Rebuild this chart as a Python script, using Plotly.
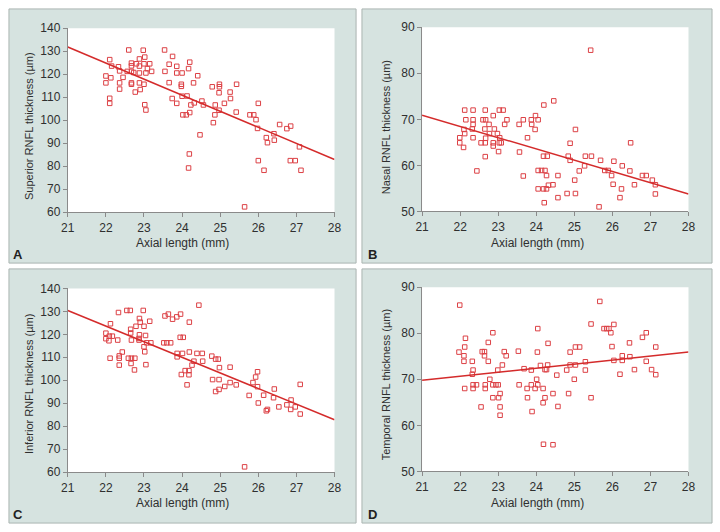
import plotly.graph_objects as go

# ---------------- data ----------------
sup_x = [22.0, 22.0, 22.1, 22.15, 22.13, 22.1, 22.1, 22.33, 22.36, 22.36, 22.36, 22.45, 22.6, 22.67, 22.67,
         22.56, 22.67, 22.67, 22.67, 22.77, 22.73, 22.8, 22.88, 22.88, 22.88, 22.88, 22.9, 22.98, 23.0, 23.02,
         23.0, 23.02, 23.05, 23.05, 23.09, 23.15, 23.2, 23.54, 23.55, 23.66, 23.66, 23.75, 23.74, 23.86, 23.86,
         23.86, 23.98, 23.98, 24.0, 24.0, 24.02, 24.11, 24.13, 24.17, 24.2, 24.2, 24.23, 24.3, 24.32, 24.41,
         24.19, 24.17, 24.47, 24.52, 24.56, 24.79, 24.82, 24.87, 24.86, 24.98, 24.98, 24.97, 24.97, 25.11, 25.26,
         25.27, 25.42, 25.43, 25.64, 25.78, 25.88, 25.94, 25.98, 26.0, 26.0, 26.15, 26.21, 26.24, 26.41, 26.42,
         26.56, 26.75, 26.85, 26.84, 26.97, 27.08, 27.12]
sup_y = [119.2, 116.2, 126.3, 123.5, 118.4, 109.5, 107.3, 123.2, 121.4, 116.2, 113.5, 118.6, 130.5, 124.8, 123.6,
         121.2, 121.2, 116.2, 115.6, 112.2, 120.7, 124.5, 126.6, 123.5, 120.5, 116.2, 113.3, 130.4, 124.5, 127.4,
         115.6, 106.7, 104.4, 120.5, 122.4, 124.5, 121.2, 130.5, 121.2, 124.3, 116.3, 127.7, 109.4, 123.4, 120.5,
         107.3, 115.6, 114.7, 120.5, 110.4, 102.3, 102.3, 110.5, 122.4, 125.2, 103.3, 106.6, 116.2, 107.5, 119.3,
         85.3, 79.2, 93.6, 108.3, 106.6, 114.5, 98.9, 106.6, 102.3, 115.6, 114.5, 111.9, 104.3, 107.3, 112.2,
         109.4, 103.5, 115.6, 62.3, 102.3, 102.3, 100.2, 96.4, 107.3, 82.4, 78.2, 92.4, 90.2, 94.1, 91.3,
         98.1, 96.3, 97.4, 82.4, 82.4, 88.4, 78.2]

nas_x = [22.12, 22.34, 22.66, 23.03, 23.13, 22.15, 22.34, 22.6, 22.67, 23.23, 23.66, 24.05, 23.87, 22.34, 22.32,
         22.1, 22.12, 21.99, 21.99, 22.09, 22.34, 22.65, 22.67, 22.66, 22.55, 22.66, 22.76, 22.77, 22.87, 22.9,
         22.87, 22.87, 22.98, 23.04, 23.03, 23.08, 23.01, 23.17, 22.44, 23.56, 23.55, 23.88, 23.98, 23.97, 23.77,
         23.66, 24.2, 24.46, 24.19, 24.29, 24.05, 24.14, 24.23, 24.27, 24.05, 24.19, 24.27, 24.32, 24.44, 24.21,
         24.57, 24.57, 24.81, 24.84, 24.89, 24.89, 25.03, 25.01, 25.03, 25.13, 25.27, 25.29, 25.45, 25.43, 25.69,
         25.65, 25.8, 25.89, 25.98, 26.02, 26.04, 26.26, 26.24, 26.2, 26.46, 26.48, 26.58, 26.79, 26.89, 27.05,
         27.13, 27.13]
nas_y = [72.0, 72.0, 72.0, 72.0, 72.0, 69.9, 69.9, 69.9, 69.9, 69.9, 69.9, 69.9, 69.9, 68.9, 67.9,
         67.8, 66.9, 66.0, 64.9, 63.9, 66.0, 67.9, 65.9, 64.9, 64.9, 61.9, 68.9, 66.9, 70.8, 67.9,
         64.9, 64.2, 66.9, 66.0, 64.9, 64.9, 63.0, 68.9, 58.8, 62.9, 68.9, 68.9, 70.8, 67.8, 66.0,
         57.7, 73.1, 74.0, 62.0, 62.0, 58.9, 58.9, 58.9, 57.8, 54.9, 54.9, 54.9, 55.7, 55.8, 51.9,
         57.8, 53.0, 53.9, 62.0, 61.1, 64.8, 67.8, 56.8, 53.9, 58.8, 59.9, 62.0, 62.0, 85.0, 61.1,
         51.0, 58.9, 58.9, 57.8, 55.9, 60.9, 59.9, 54.9, 53.0, 58.8, 64.9, 55.8, 57.8, 57.8, 56.8,
         55.8, 53.8]

inf_x = [22.0, 22.0, 22.09, 22.17, 22.08, 22.12, 22.11, 22.33, 22.31, 22.35, 22.35, 22.35, 22.43, 22.55, 22.64,
         22.65, 22.65, 22.67, 22.59, 22.67, 22.76, 22.66, 22.75, 22.79, 22.88, 22.9, 22.88, 22.87, 22.87, 22.98,
         23.0, 23.0, 23.02, 23.04, 23.07, 23.05, 23.15, 23.18, 23.55, 23.64, 23.75, 23.86, 23.96, 23.52, 23.6,
         23.7, 23.95, 24.03, 23.87, 23.87, 24.01, 23.98, 24.08, 24.18, 24.18, 24.13, 24.19, 24.19, 24.26, 24.31,
         24.39, 24.53, 24.54, 24.44, 24.78, 24.88, 24.95, 24.8, 24.97, 24.98, 24.88, 24.97, 25.12, 25.26, 25.26,
         25.42, 25.64, 25.76, 25.86, 25.93, 25.98, 25.98, 26.0, 26.14, 26.21, 26.24, 26.4, 26.42, 26.54, 26.75,
         26.86, 26.85, 26.97, 27.1, 27.1]
inf_y = [120.5, 118.1, 119.2, 119.2, 117.2, 124.6, 109.6, 129.5, 117.5, 110.6, 109.6, 106.6, 112.3, 130.4, 130.4,
         122.2, 120.6, 117.5, 109.6, 109.6, 109.6, 107.3, 104.5, 123.5, 126.9, 125.3, 119.8, 118.2, 117.5, 130.4,
         123.5, 114.6, 112.4, 119.5, 116.3, 106.8, 125.7, 116.3, 128.0, 128.8, 126.6, 127.6, 128.8, 116.3, 116.3,
         116.3, 118.7, 118.7, 111.7, 110.2, 111.7, 102.5, 104.2, 104.2, 102.4, 98.0, 125.3, 112.3, 106.6, 108.3,
         111.7, 111.7, 108.3, 132.7, 110.5, 109.2, 109.2, 100.3, 100.3, 105.5, 95.1, 96.0, 97.3, 105.7, 99.0,
         98.0, 62.3, 93.4, 99.0, 101.4, 103.7, 97.2, 90.1, 93.5, 86.7, 87.3, 92.4, 96.2, 88.4, 89.3,
         91.4, 87.3, 88.4, 98.2, 85.3]

tem_x = [21.99, 21.97, 22.14, 22.12, 22.1, 22.1, 22.12, 22.32, 22.34, 22.32, 22.34, 22.34, 22.43, 22.55, 22.58,
         22.64, 22.64, 22.66, 22.66, 22.74, 22.74, 22.78, 22.86, 22.86, 22.86, 22.94, 23.0, 22.99, 23.01, 23.05,
         23.05, 23.05, 23.11, 23.16, 23.21, 23.53, 23.55, 23.68, 23.76, 23.77, 23.87, 23.87, 23.89, 23.97, 24.01,
         24.04, 24.04, 24.03, 24.11, 24.18, 24.18, 24.23, 24.23, 24.27, 24.3, 24.31, 24.19, 24.44, 24.44, 24.54,
         24.57, 24.8, 24.85, 24.89, 24.89, 25.0, 25.03, 25.03, 25.14, 25.29, 25.29, 25.44, 25.44, 25.67, 25.78,
         25.85, 25.91, 25.96, 25.99, 26.04, 26.04, 26.2, 26.26, 26.26, 26.45, 26.46, 26.58, 26.79, 26.89, 26.89,
         27.03, 27.14, 27.14]
tem_y = [86.1, 75.9, 78.9, 77.0, 75.1, 73.9, 68.0, 73.9, 72.0, 71.1, 68.8, 68.0, 68.8, 64.0, 76.0,
         76.0, 75.1, 68.8, 68.0, 78.0, 73.9, 70.0, 80.1, 68.8, 66.0, 68.8, 68.8, 72.0, 66.0, 66.9,
         64.0, 62.2, 73.1, 76.0, 75.1, 76.1, 68.8, 72.3, 68.0, 66.0, 72.0, 68.8, 63.0, 68.0, 70.0,
         68.8, 81.0, 75.9, 73.0, 68.0, 64.9, 66.0, 72.1, 72.1, 73.1, 77.8, 55.9, 55.8, 66.9, 70.9,
         64.1, 72.0, 66.9, 75.9, 73.1, 70.0, 77.0, 73.1, 77.0, 73.8, 72.0, 82.0, 66.0, 86.9, 81.0,
         81.0, 81.0, 80.1, 77.1, 81.9, 74.1, 71.1, 75.1, 74.1, 77.9, 74.9, 72.1, 79.1, 80.1, 73.9,
         72.1, 77.0, 71.0]

fit_x = [21, 28]
sup_fit = [131.8, 82.9]
nas_fit = [70.9, 53.8]
inf_fit = [130.4, 82.8]
tem_fit = [69.8, 75.9]

x_ticks = [21, 22, 23, 24, 25, 26, 27, 28]
y_ticks_big = [60, 70, 80, 90, 100, 110, 120, 130, 140]
y_ticks_small = [50, 60, 70, 80, 90]

panel_titles = ["Superior RNFL thickness (µm)", "Nasal RNFL thickness (µm)",
                "Inferior RNFL thickness (µm)", "Temporal RNFL thickness (µm)"]
panel_letters = ["A", "B", "C", "D"]
x_title = "Axial length (mm)"

# ---------------- layout geometry (pixels) ----------------
W, H = 720, 532
FONT = "Liberation Sans, Arial, Helvetica, sans-serif"
MARK = "#dc4045"
LINE = "#d42b2b"
TXT = "#2f2f2f"
AX = "#8a8a8a"

panels = [
    dict(box=(2, 2, 356, 263), plot=(62, 21.7, 334, 210.7), xs=sup_x, ys=sup_y, fit=sup_fit,
         yr=[60, 140], yt=y_ticks_big, ytx=22.7, yty=122, xtx=179, xty=242, lx=11.5, ly=254),
    dict(box=(362, 2, 719, 263), plot=(423.3, 20.7, 695, 210), xs=nas_x, ys=nas_y, fit=nas_fit,
         yr=[50, 90], yt=y_ticks_small, ytx=386, yty=123, xtx=541, xty=242, lx=372.5, ly=254),
    dict(box=(2, 269, 356, 530), plot=(62, 289, 334, 477.7), xs=inf_x, ys=inf_y, fit=inf_fit,
         yr=[60, 140], yt=y_ticks_big, ytx=22.7, yty=387, xtx=179, xty=509, lx=11.5, ly=521.5),
    dict(box=(362, 269, 719, 530), plot=(423.3, 287.7, 695, 477), xs=tem_x, ys=tem_y, fit=tem_fit,
         yr=[50, 90], yt=y_ticks_small, ytx=386, yty=388, xtx=541, xty=509, lx=372.5, ly=521.5),
]

fig = go.Figure()
shapes = []
annotations = []
layout_axes = {}

for i, p in enumerate(panels):
    n = i + 1
    xa = "x" if n == 1 else f"x{n}"
    ya = "y" if n == 1 else f"y{n}"
    x0, y0, x1, y1 = p["box"]
    shapes.append(dict(type="rect", xref="paper", yref="paper", layer="below",
                       x0=x0 / W, x1=x1 / W, y0=1 - y1 / H, y1=1 - y0 / H,
                       fillcolor="#d6e3e0", line=dict(color="#aab4b1", width=1)))
    px0, py0, px1, py1 = p["plot"]
    shapes.append(dict(type="rect", xref="paper", yref="paper", layer="below",
                       x0=px0 / W, x1=px1 / W, y0=1 - py1 / H, y1=1 - py0 / H,
                       fillcolor="white", line=dict(width=0)))
    axis_common = dict(showgrid=False, zeroline=False, showline=True, linecolor=AX, linewidth=1,
                       ticks="outside", ticklen=4, tickcolor=AX, tickwidth=1,
                       tickfont=dict(family=FONT, size=12, color=TXT), mirror=False)
    layout_axes["xaxis" if n == 1 else f"xaxis{n}"] = dict(
        axis_common, domain=[px0 / W, px1 / W], range=[21, 28], tickvals=x_ticks,
        anchor=ya)
    layout_axes["yaxis" if n == 1 else f"yaxis{n}"] = dict(
        axis_common, domain=[1 - py1 / H, 1 - py0 / H], range=p["yr"], tickvals=p["yt"],
        anchor=xa)
    fig.add_trace(go.Scatter(x=p["xs"], y=p["ys"], mode="markers", xaxis=xa, yaxis=ya,
                             marker=dict(symbol="square-open", size=4.5, color=MARK,
                                         line=dict(width=1, color=MARK)),
                             showlegend=False, hoverinfo="x+y", cliponaxis=False))
    fig.add_trace(go.Scatter(x=fit_x, y=p["fit"], mode="lines", xaxis=xa, yaxis=ya,
                             line=dict(color=LINE, width=1.5), showlegend=False))
    annotations.append(dict(text=x_title, xref="paper", yref="paper", x=p["xtx"] / W,
                            y=1 - p["xty"] / H, showarrow=False, xanchor="center", yanchor="middle",
                            font=dict(family=FONT, size=12, color=TXT)))
    annotations.append(dict(text=panel_titles[i], xref="paper", yref="paper", x=p["ytx"] / W,
                            y=1 - p["yty"] / H, showarrow=False, textangle=-90,
                            xanchor="center", yanchor="middle",
                            font=dict(family=FONT, size=11, color=TXT)))
    annotations.append(dict(text="<b>" + panel_letters[i] + "</b>", xref="paper", yref="paper",
                            x=p["lx"] / W, y=1 - p["ly"] / H, showarrow=False,
                            xanchor="center", yanchor="middle",
                            font=dict(family=FONT, size=13, color="#222222")))

fig.update_layout(width=W, height=H, margin=dict(l=0, r=0, t=0, b=0),
                  paper_bgcolor="white", plot_bgcolor="white",
                  shapes=shapes, annotations=annotations, **layout_axes)

fig.write_html("out.html", config={"displayModeBar": False},
               post_script="document.body.style.margin='0px';")
